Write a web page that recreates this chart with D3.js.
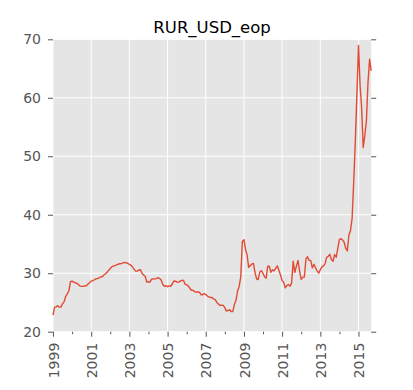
<!DOCTYPE html>
<html><head><meta charset="utf-8">
<script src="https://cdn.jsdelivr.net/npm/d3@7"></script>
<style>body{margin:0;background:#fff;} svg{display:block;font-family:"DejaVu Sans",sans-serif;}</style>
</head><body><svg id="c" width="413" height="390"></svg>
<script>
const title = "RUR_USD_eop";
const startYear = 1999;
// monthly end-of-period values, Jan..Dec
const v1999 = [22.85, 24.2, 24.25, 24.45, 24.2, 24.2, 24.75, 25.1, 26.05, 26.45, 27.0, 28.55];
const v2000 = [28.66, 28.46, 28.40, 28.25, 28.07, 27.80, 27.75, 27.75, 27.85, 27.83, 28.16, 28.37];
const v2001 = [28.66, 28.73, 28.85, 29.05, 29.07, 29.21, 29.38, 29.39, 29.70, 29.91, 30.14, 30.52];
const v2002 = [30.82, 31.12, 31.23, 31.30, 31.44, 31.54, 31.62, 31.64, 31.77, 31.86, 31.78, 31.7];
const v2003 = [31.5, 31.35, 31.1, 30.7, 30.35, 30.35, 30.55, 30.6, 29.95, 29.7, 29.45, 28.5];
const v2004 = [28.52, 28.51, 28.99, 29.02, 29.03, 29.07, 29.23, 29.1, 28.84, 28.08, 27.75, 27.87];
const v2005 = [27.69, 27.83, 27.77, 28.16, 28.67, 28.62, 28.50, 28.48, 28.66, 28.79, 28.78, 28.12];
const v2006 = [28.06, 27.76, 27.47, 27.06, 27.08, 26.86, 26.79, 26.78, 26.75, 26.33, 26.33, 26.53];
const v2007 = [26.35, 26.1, 25.95, 25.85, 25.85, 25.6, 25.5, 25.0, 24.75, 24.5, 24.55, 24.5];
const v2008 = [24.12, 23.52, 23.64, 23.75, 23.46, 23.44, 24.63, 25.37, 26.96, 27.74, 29.38, 35.42];
const v2009 = [35.72, 34.01, 33.18, 31.01, 31.29, 31.59, 31.67, 30.09, 29.01, 28.93, 30.24, 30.43];
const v2010 = [29.95, 29.36, 29.17, 31.21, 31.20, 30.17, 30.58, 30.40, 30.86, 31.27, 30.48, 29.69];
const v2011 = [28.73, 28.43, 27.50, 27.87, 28.08, 27.78, 28.3, 32.07, 30.12, 31.20, 32.20, 30.36];
const v2012 = [28.95, 29.33, 29.36, 32.46, 32.82, 32.19, 32.19, 30.92, 31.53, 30.92, 30.37, 30.02];
const v2013 = [30.62, 31.08, 31.26, 31.59, 32.71, 32.89, 33.25, 32.35, 32.05, 33.20, 32.73, 34.3];
const v2014 = [35.8, 35.9, 35.7, 35.3, 34.3, 33.8, 36.5, 37.3, 39.4, 45.5, 52.5, 60.5];
const v2015 = [68.93, 61.99, 58.46, 51.49, 53.5, 56.0, 62.5, 66.6, 64.6];

const xTickYears = [1999, 2001, 2003, 2005, 2007, 2009, 2011, 2013, 2015];
const xMinorYears = [2000, 2002, 2004, 2006, 2008, 2010, 2012, 2014];
const yTicks = [20, 30, 40, 50, 60, 70];
const yDomain = [20, 70];

const values = [].concat(v1999, v2000, v2001, v2002, v2003, v2004, v2005, v2006,
  v2007, v2008, v2009, v2010, v2011, v2012, v2013, v2014, v2015);
const series = values.map((v, i) => ({date: new Date(Date.UTC(startYear, i, 1)), value: v}));

const L = 53, R = 371.2, T = 39.3, B = 331.7;
const svg = d3.select("#c");
const x = d3.scaleUtc().domain(d3.extent(series, d => d.date)).range([L, R]);
const y = d3.scaleLinear().domain(yDomain).range([B, T]);

svg.append("rect").attr("x", L).attr("y", T).attr("width", R - L).attr("height", B - T).attr("fill", "#E5E5E5");

const yr = yv => new Date(Date.UTC(yv, 0, 1));
// grid
const g = svg.append("g").attr("stroke", "#fff").attr("stroke-width", 1);
g.selectAll(".gx").data(xTickYears).join("line")
  .attr("x1", d => x(yr(d))).attr("x2", d => x(yr(d))).attr("y1", T).attr("y2", B);
g.selectAll(".gy").data(yTicks).join("line")
  .attr("x1", L).attr("x2", R).attr("y1", d => y(d)).attr("y2", d => y(d));

// line
svg.append("path").datum(series)
  .attr("fill", "none").attr("stroke", "#E24A33").attr("stroke-width", 1.4)
  .attr("stroke-linejoin", "round")
  .attr("d", d3.line().x(d => x(d.date)).y(d => y(d.value)));

function style(sel) {
  sel.select(".domain").remove();
  sel.selectAll(".tick line").attr("stroke", "#555555");
  sel.selectAll(".tick text").attr("fill", "#555555").style("font-size", "14px")
    .style("font-family", '"DejaVu Sans", sans-serif');
}

svg.append("g").attr("transform", `translate(${L},0)`)
  .call(d3.axisLeft(y).tickValues(yTicks).tickSize(5).tickPadding(7).tickFormat(d3.format("d")))
  .call(style);
svg.append("g").attr("transform", `translate(${R},0)`)
  .call(d3.axisRight(y).tickValues(yTicks).tickSize(5).tickFormat(""))
  .call(style);
svg.append("g").attr("transform", `translate(0,${B})`)
  .call(d3.axisBottom(x).tickValues(xMinorYears.map(yr)).tickSize(2.5).tickFormat(""))
  .call(style);
const xa = svg.append("g").attr("transform", `translate(0,${B})`)
  .call(d3.axisBottom(x).tickValues(xTickYears.map(yr)).tickSize(5).tickFormat(d3.utcFormat("%Y")))
  .call(style);
xa.selectAll(".tick text")
  .attr("y", 0).attr("x", -11).attr("dy", "0.36em")
  .attr("transform", "rotate(-90)").style("text-anchor", "end");

svg.append("text").attr("x", (L + R) / 2).attr("y", 32.5).attr("text-anchor", "middle")
  .style("font-size", "16.5px").attr("fill", "#000").text(title);
</script></body></html>
